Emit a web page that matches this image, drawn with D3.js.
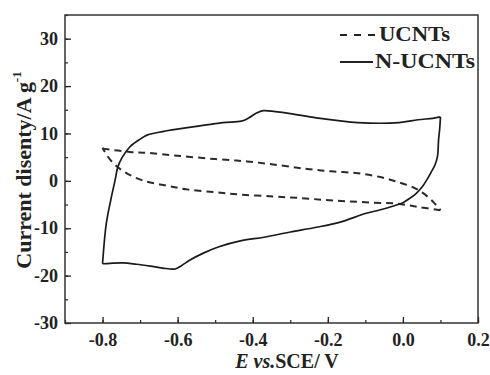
<!DOCTYPE html>
<html>
<head>
<meta charset="utf-8">
<script src="https://cdn.jsdelivr.net/npm/d3@7/dist/d3.min.js"></script>
<style>
  html, body { margin: 0; padding: 0; background: #fff; }
  svg { display: block; }
  text { font-family: "Liberation Serif", "Times New Roman", serif; font-weight: bold; fill: #222; }
</style>
</head>
<body>
<script>
// ---- data (potential in V vs SCE, current density in A/g) ----
const xTicks = [-0.8, -0.6, -0.4, -0.2, 0.0, 0.2];
const yTicks = [-30, -20, -10, 0, 10, 20, 30];
const seriesNames = ["UCNTs", "N-UCNTs"];

// UCNTs (dashed) forward sweep
const uForwardV = [-0.8, -0.727, -0.68, -0.6, -0.5, -0.415, -0.33, -0.255, -0.19, -0.12, -0.06, -0.015, 0.028, 0.052, 0.079, 0.1];
const uForwardI = [6.8, 6.1, 5.9, 5.3, 4.6, 4.1, 3.3, 2.5, 2.0, 1.6, 0.8, -0.2, -1.4, -2.5, -4.3, -6.2];
// UCNTs reverse sweep
const uReverseV = [0.1, 0.04, -0.015, -0.08, -0.15, -0.212, -0.28, -0.345, -0.433, -0.5, -0.575, -0.63, -0.69, -0.74, -0.772, -0.79, -0.8];
const uReverseI = [-6.2, -5.5, -4.8, -4.6, -4.3, -4.0, -3.6, -3.3, -2.9, -2.4, -1.8, -1.0, 0.0, 1.8, 3.8, 5.6, 7.0];

// N-UCNTs (solid) forward sweep
const nForwardV = [-0.8, -0.79, -0.778, -0.767, -0.759, -0.748, -0.727, -0.70, -0.68, -0.64, -0.61, -0.55, -0.48, -0.43, -0.41, -0.39, -0.372, -0.34, -0.30, -0.23, -0.12, -0.01, 0.04, 0.08, 0.1];
const nForwardI = [-17.5, -9.0, -4.0, 0.0, 3.0, 4.9, 7.2, 8.8, 9.7, 10.4, 10.8, 11.5, 12.3, 12.6, 13.3, 14.3, 14.8, 14.6, 14.2, 13.3, 12.3, 12.3, 12.9, 13.2, 13.5];
// N-UCNTs reverse sweep
const nReverseV = [0.1, 0.098, 0.095, 0.092, 0.085, 0.075, 0.062, 0.052, 0.035, 0.02, 0.0, -0.025, -0.06, -0.1, -0.167, -0.23, -0.3, -0.37, -0.43, -0.49, -0.53, -0.567, -0.59, -0.607, -0.64, -0.673, -0.71, -0.745, -0.78, -0.8];
const nReverseI = [13.5, 11.0, 8.7, 5.1, 3.3, 1.8, 0.0, -1.2, -2.7, -3.6, -4.6, -5.3, -6.1, -6.9, -8.7, -9.8, -10.8, -11.9, -12.6, -13.9, -15.2, -16.7, -17.9, -18.6, -18.4, -18.0, -17.6, -17.3, -17.4, -17.5];

// ---- layout ----
const W = 490, H = 375;
const mLeft = 65, mRight = 478, mTop = 15, mBottom = 323;

const svg = d3.select("body").append("svg").attr("width", W).attr("height", H);
svg.append("rect").attr("width", W).attr("height", H).attr("fill", "#fff");

const x = d3.scaleLinear().domain([-0.9, 0.2]).range([mLeft, mRight]);
const y = d3.scaleLinear().domain([-30, 35]).range([mBottom, mTop]);

const ink = "#222";

// minor ticks
const xMinor = d3.range(-0.9, 0.2001, 0.1).map(v => +v.toFixed(2));
const yMinor = d3.range(-30, 35.001, 5);

const gxMinor = svg.append("g").attr("transform", `translate(0,${mBottom})`)
  .call(d3.axisBottom(x).tickValues(xMinor).tickSize(-3).tickFormat(""));
const gyMinor = svg.append("g").attr("transform", `translate(${mLeft},0)`)
  .call(d3.axisLeft(y).tickValues(yMinor).tickSize(-3).tickFormat(""));
[gxMinor, gyMinor].forEach(g => { g.select(".domain").remove(); g.selectAll("line").attr("stroke", ink).attr("stroke-width", 1.2); });

// major axes
const gx = svg.append("g").attr("transform", `translate(0,${mBottom})`)
  .call(d3.axisBottom(x).tickValues(xTicks).tickSize(-6).tickPadding(10).tickFormat(d3.format(".1f")));
const gy = svg.append("g").attr("transform", `translate(${mLeft},0)`)
  .call(d3.axisLeft(y).tickValues(yTicks).tickSize(-6).tickPadding(7).tickFormat(d3.format("d")));
[gx, gy].forEach(g => {
  g.select(".domain").remove();
  g.selectAll("line").attr("stroke", ink).attr("stroke-width", 1.3);
  g.selectAll("text").attr("font-family", "Liberation Serif, Times New Roman, serif")
    .attr("font-weight", "bold").attr("font-size", 18).attr("fill", ink)
    .text(function(d){ return d3.select(this).text().replace("−", "-"); });
});

// frame
svg.append("rect").attr("x", mLeft).attr("y", mTop).attr("width", mRight - mLeft).attr("height", mBottom - mTop)
  .attr("fill", "none").attr("stroke", "#333").attr("stroke-width", 1.5);

// curves
const line = d3.line().x(d => x(d[0])).y(d => y(d[1])).curve(d3.curveCatmullRom.alpha(0.5));
const zipped = (vs, is) => vs.map((v, k) => [v, is[k]]);

const plot = svg.append("g");
[[uForwardV, uForwardI], [uReverseV, uReverseI]].forEach(([vs, is]) => {
  plot.append("path").attr("d", line(zipped(vs, is))).attr("fill", "none")
    .attr("stroke", "#2a2a2a").attr("stroke-width", 2).attr("stroke-dasharray", "7,5");
});
[[nForwardV, nForwardI], [nReverseV, nReverseI]].forEach(([vs, is]) => {
  plot.append("path").attr("d", line(zipped(vs, is))).attr("fill", "none")
    .attr("stroke", "#1a1a1a").attr("stroke-width", 1.7).attr("stroke-linejoin", "round");
});

// legend
const leg = svg.append("g");
leg.append("line").attr("x1", 340).attr("x2", 375).attr("y1", 35).attr("y2", 35)
  .attr("stroke", "#222").attr("stroke-width", 2).attr("stroke-dasharray", "7,7");
leg.append("text").attr("x", 379).attr("y", 41).attr("font-size", 20)
  .attr("textLength", 71).attr("lengthAdjust", "spacingAndGlyphs").text(seriesNames[0]);
leg.append("line").attr("x1", 340).attr("x2", 373).attr("y1", 62).attr("y2", 62)
  .attr("stroke", "#222").attr("stroke-width", 1.8);
leg.append("text").attr("x", 375).attr("y", 68).attr("font-size", 20)
  .attr("textLength", 100).attr("lengthAdjust", "spacingAndGlyphs").text(seriesNames[1]);

// x title
const xt = svg.append("text").attr("x", 287).attr("y", 368).attr("text-anchor", "middle").attr("font-size", 20);
xt.append("tspan").attr("font-style", "italic").text("E");
xt.append("tspan").text(" ");
xt.append("tspan").attr("font-style", "italic").text("vs.");
xt.append("tspan").text("SCE/ V");

// y title
const yt = svg.append("text").attr("transform", "translate(31,170) rotate(-90)")
  .attr("text-anchor", "middle").attr("font-size", 22);
yt.append("tspan").text("Current disenty/A g");
yt.append("tspan").attr("font-size", 13).attr("dy", -10).text("-1");
</script>
</body>
</html>
